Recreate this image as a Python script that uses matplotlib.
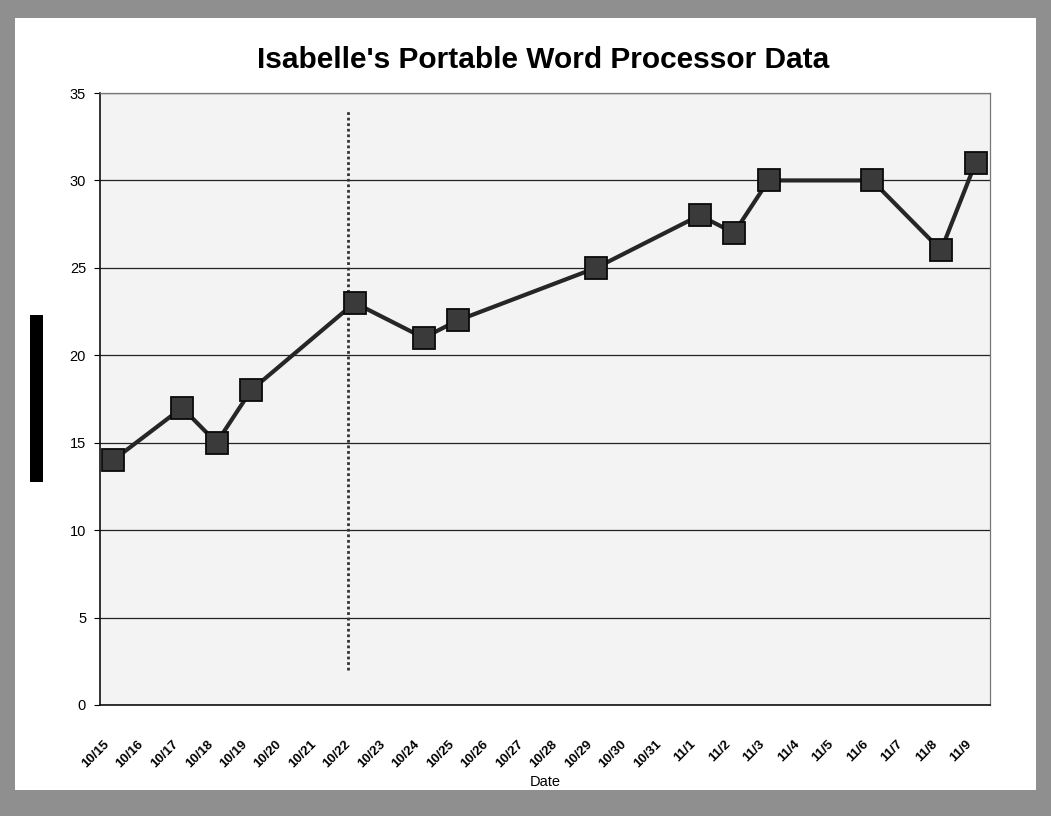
import matplotlib
matplotlib.use("Agg")
import matplotlib.pyplot as plt
import matplotlib.transforms as mtransforms
from matplotlib.patches import Rectangle

# ---- data ----
dates = ["10/15", "10/16", "10/17", "10/18", "10/19", "10/20", "10/21", "10/22",
         "10/23", "10/24", "10/25", "10/26", "10/27", "10/28", "10/29", "10/30",
         "10/31", "11/1", "11/2", "11/3", "11/4", "11/5", "11/6", "11/7",
         "11/8", "11/9"]
obs_dates = ["10/15", "10/17", "10/18", "10/19", "10/22", "10/24", "10/25",
             "10/29", "11/1", "11/2", "11/3", "11/6", "11/8", "11/9"]
obs_values = [14, 17, 15, 18, 23, 21, 22, 25, 28, 27, 30, 30, 26, 31]
y_ticks = [0, 5, 10, 15, 20, 25, 30, 35]
marker_line_pos = 6.8          # vertical dotted marker between 10/21 and 10/22
marker_line_range = [2, 34]

W, H = 1051, 816
fig = plt.figure(figsize=(W / 100, H / 100), dpi=100)
fig.patch.set_facecolor("#8f8f8f")

# white page inside scanned gray border
fig.patches.append(Rectangle((15 / W, 26 / H), (1036 - 15) / W, (798 - 26) / H,
                             transform=fig.transFigure, facecolor="white",
                             edgecolor="none", zorder=-5))
# dark artifact bar on the left
fig.patches.append(Rectangle((30 / W, 1 - 482 / H), 13 / W, (482 - 315) / H,
                             transform=fig.transFigure, facecolor="black",
                             edgecolor="none", zorder=-4))

ax = fig.add_axes([100 / W, 1 - 705 / H, (990 - 100) / W, (705 - 93) / H])
ax.set_zorder(5)
ax.set_facecolor("#f3f3f3")

xpos = [dates.index(d) for d in obs_dates]
ax.plot(xpos, obs_values, color="#262626", linewidth=3.0, zorder=3,
        marker="s", markersize=16, markerfacecolor="#3a3a3a",
        markeredgecolor="#0a0a0a", markeredgewidth=1.3)

ax.plot([marker_line_pos, marker_line_pos], marker_line_range, color="#333333",
        linestyle=(0, (1, 1)), linewidth=2.0, zorder=2)

ax.set_xlim(-0.38, 25.42)
ax.set_ylim(0, 35)
ax.set_yticks(y_ticks)
ax.set_yticklabels([str(v) for v in y_ticks], fontsize=10.5, family="Liberation Sans")
ax.yaxis.grid(True, color="#222222", linewidth=0.9)
ax.set_axisbelow(True)
ax.tick_params(axis="y", length=4, pad=6)

ax.set_xticks(range(len(dates)))
ax.set_xticklabels(dates, rotation=45, ha="right", va="top", rotation_mode="anchor",
                   fontsize=9.5, family="Liberation Sans", fontweight="bold")
ax.tick_params(axis="x", length=0, pad=24)
for lbl in ax.get_xticklabels():
    lbl.set_transform(lbl.get_transform() +
                      mtransforms.ScaledTranslation(-0.10, 0, fig.dpi_scale_trans))

for s in ["left", "bottom"]:
    ax.spines[s].set_color("#111111")
    ax.spines[s].set_linewidth(1.2)
for s in ["top", "right"]:
    ax.spines[s].set_color("#777777")
    ax.spines[s].set_linewidth(0.9)

fig.text(543 / W, 1 - 60 / H, "Isabelle's Portable Word Processor Data",
         ha="center", va="center", fontsize=21.5, fontweight="bold",
         family="Liberation Sans")
fig.text(545 / W, 1 - 782 / H, "Date", ha="center", va="center", fontsize=10.5,
         family="Liberation Sans")

fig.savefig("out.png", dpi=100)
